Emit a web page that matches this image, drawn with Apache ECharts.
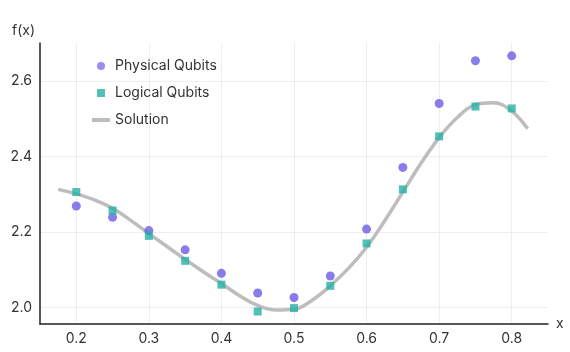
<!DOCTYPE html>
<html>
<head>
  <meta charset="UTF-8">
  <title>Qubits</title>
  <script src="https://cdn.jsdelivr.net/npm/echarts@6/dist/echarts.min.js"></script>
</head>
<body style="margin:0">
  <div id="chart" style="width: 570px; height: 352px"></div>
  <script>
    // x positions of the measured points
    var xData = [0.2, 0.25, 0.3, 0.35, 0.4, 0.45, 0.5, 0.55, 0.6, 0.65, 0.7, 0.75, 0.8];
    var physical = [2.269, 2.239, 2.204, 2.153, 2.091, 2.039, 2.027, 2.084, 2.208, 2.371, 2.540, 2.653, 2.666];
    var logical = [2.306, 2.257, 2.190, 2.124, 2.061, 1.990, 1.999, 2.058, 2.170, 2.313, 2.453, 2.532, 2.527];
    // solution curve
    var solX = [0.175, 0.2, 0.225, 0.25, 0.275, 0.3, 0.325, 0.35, 0.375, 0.4, 0.425, 0.45, 0.475, 0.5,
                0.525, 0.55, 0.575, 0.6, 0.625, 0.65, 0.675, 0.7, 0.725, 0.75, 0.775, 0.8, 0.822];
    var solY = [2.313, 2.301, 2.285, 2.263, 2.231, 2.196, 2.162, 2.128, 2.095, 2.064, 2.032, 2.006, 1.994, 1.996,
                2.020, 2.058, 2.104, 2.160, 2.230, 2.306, 2.382, 2.450, 2.503, 2.537, 2.542, 2.520, 2.473];

    function pairs(xs, ys) {
      return xs.map(function (x, i) { return [x, ys[i]]; });
    }

    var font = 'Inter';
    var chart = echarts.init(document.getElementById('chart'));
    var option = {
      animation: false,
      textStyle: { fontFamily: font },
      grid: { left: 40, right: 22, top: 43, bottom: 28 },
      legend: {
        orient: 'vertical',
        left: 87,
        top: 54,
        itemGap: 13,
        itemWidth: 18,
        itemHeight: 8,
        textStyle: { fontSize: 14, color: '#333', fontFamily: font },
        data: [
          { name: 'Physical Qubits', icon: 'circle', itemStyle: { color: '#7f71ee' } },
          { name: 'Logical Qubits', icon: 'path://M0,0h10v10h-10z' },
          { name: 'Solution', icon: 'path://M0,0h18v4h-18z' }
        ]
      },
      xAxis: {
        type: 'value',
        min: 0.15,
        max: 0.85,
        splitNumber: 7,
        name: 'x',
        nameGap: 8,
        nameTextStyle: { fontSize: 14, color: '#333', verticalAlign: 'middle' },
        axisLine: { lineStyle: { color: '#222', width: 1.5 } },
        axisTick: { show: false },
        axisLabel: { showMinLabel: false, showMaxLabel: false, color: '#333', fontSize: 14, margin: 8 },
        splitLine: { show: true, showMinLine: false, showMaxLine: false, lineStyle: { color: '#eeeeee' } }
      },
      yAxis: {
        type: 'value',
        min: 1.957,
        max: 2.7,
        splitNumber: 4,
        name: 'f(x)',
        nameGap: 5,
        nameTextStyle: { fontSize: 14, color: '#333', align: 'right', padding: [0, 5, 0, 0] },
        axisLine: { show: true, lineStyle: { color: '#222', width: 1.5 } },
        axisTick: { show: false },
        axisLabel: {
          showMinLabel: false, showMaxLabel: false, color: '#333', fontSize: 14, margin: 8,
          formatter: function (v) { return v.toFixed(1); }
        },
        splitLine: { show: true, showMinLine: false, showMaxLine: false, lineStyle: { color: '#eeeeee' } }
      },
      series: [
        {
          name: 'Solution',
          type: 'line',
          smooth: 0.4,
          symbol: 'none',
          data: pairs(solX, solY),
          lineStyle: { color: '#bdbdbd', width: 3.5 },
          itemStyle: { color: '#bdbdbd' },
          z: 1
        },
        {
          name: 'Physical Qubits',
          type: 'scatter',
          symbol: 'circle',
          symbolSize: 9,
          data: pairs(xData, physical),
          itemStyle: { color: '#6c5ce7' },
          z: 3
        },
        {
          name: 'Logical Qubits',
          type: 'scatter',
          symbol: 'rect',
          symbolSize: 8,
          data: pairs(xData, logical),
          itemStyle: { color: '#26b0a5' },
          z: 4
        }
      ]
    };
    chart.setOption(option);
  </script>
</body>
</html>
